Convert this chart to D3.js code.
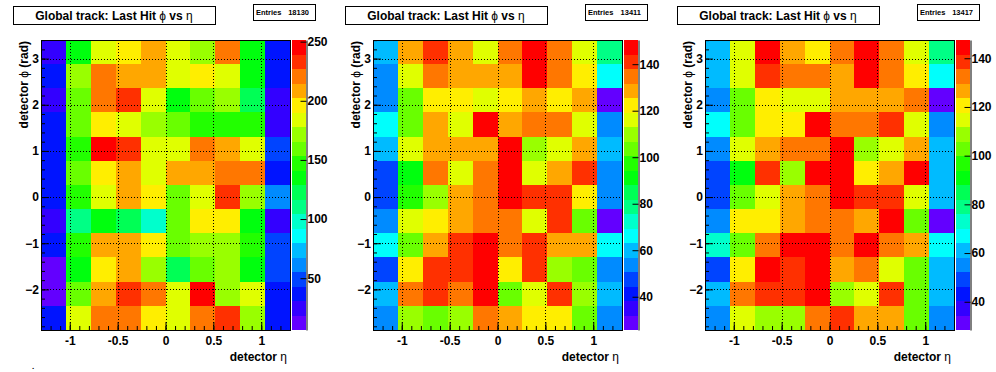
<!DOCTYPE html>
<html>
<head>
<meta charset="utf-8">
<script src="https://cdn.jsdelivr.net/npm/d3@7"></script>
<style>
body { margin: 0; background: #fff; }
svg { display: block; }
text { font-family: "Liberation Sans", Arial, Helvetica, sans-serif; font-weight: bold; fill: #000; }
</style>
</head>
<body>
<div id="graph"></div>
<script>
var width = 996, height = 372;

// bin edges
var etaEdges = [-1.3, -1.04, -0.78, -0.52, -0.26, 0, 0.26, 0.52, 0.78, 1.04, 1.3];
var phiEdges = [-2.880, -2.356, -1.833, -1.309, -0.785, -0.262, 0.262, 0.785, 1.309, 1.833, 2.356, 2.880, 3.403];

// tick labels
var etaTicks = [-1, -0.5, 0, 0.5, 1];
var etaLabels = ["-1", "-0.5", "0", "0.5", "1"];
var phiTicks = [-2, -1, 0, 1, 2, 3];
var zTicks1 = [50, 100, 150, 200, 250];
var zTicks2 = [40, 60, 80, 100, 120, 140];
var zTicks3 = [40, 60, 80, 100, 120, 140];

// z (colour) range of each histogram
var zRange1 = [6.2, 251.4];
var zRange2 = [25.7, 150.4];
var zRange3 = [28.4, 147.5];

var entries = [18130, 13411, 13417];

// bin contents, rows from top (phi high) to bottom, columns eta low -> high
var counts1 = [
  [25, 135, 184, 196, 208, 184, 172, 221, 135, 37],
  [37, 172, 221, 208, 208, 184, 196, 184, 135, 37],
  [25, 159, 221, 233, 184, 135, 159, 172, 123, 25],
  [37, 159, 196, 184, 172, 159, 147, 147, 147, 25],
  [37, 147, 245, 233, 184, 184, 221, 208, 184, 49],
  [37, 159, 196, 208, 184, 208, 208, 221, 221, 37],
  [37, 147, 184, 208, 196, 159, 184, 233, 172, 61],
  [25, 110, 135, 123, 98, 159, 196, 196, 135, 25],
  [37, 147, 208, 208, 196, 159, 172, 172, 147, 49],
  [12, 135, 196, 208, 172, 123, 159, 172, 135, 49],
  [12, 159, 208, 233, 221, 184, 245, 172, 184, 37],
  [37, 184, 221, 221, 196, 184, 221, 233, 172, 37]
];
var counts2 = [
  [60, 129, 141, 129, 116, 135, 147, 135, 116, 79],
  [54, 116, 135, 129, 129, 129, 147, 135, 122, 66],
  [54, 104, 122, 122, 116, 122, 129, 122, 129, 29],
  [66, 104, 129, 116, 147, 129, 135, 135, 116, 54],
  [60, 116, 129, 129, 129, 147, 110, 116, 129, 60],
  [48, 91, 135, 116, 135, 147, 116, 129, 141, 54],
  [48, 97, 110, 129, 135, 147, 141, 141, 122, 54],
  [54, 116, 122, 129, 135, 135, 116, 141, 104, 29],
  [66, 104, 129, 141, 147, 135, 141, 129, 129, 66],
  [48, 122, 141, 141, 147, 122, 141, 110, 104, 54],
  [60, 135, 141, 135, 147, 104, 116, 141, 110, 60],
  [54, 110, 104, 110, 135, 129, 122, 122, 104, 54]
];
var counts3 = [
  [61, 115, 145, 127, 121, 133, 145, 133, 115, 79],
  [61, 115, 139, 133, 133, 127, 145, 133, 121, 67],
  [55, 103, 121, 115, 115, 127, 127, 127, 133, 31],
  [67, 103, 121, 121, 145, 133, 133, 139, 115, 55],
  [55, 115, 127, 133, 133, 145, 109, 115, 127, 61],
  [49, 91, 139, 109, 145, 145, 121, 127, 145, 61],
  [49, 103, 115, 127, 133, 145, 139, 139, 115, 61],
  [55, 121, 121, 127, 133, 133, 127, 145, 103, 31],
  [73, 103, 133, 145, 145, 133, 145, 133, 127, 67],
  [49, 121, 145, 139, 145, 127, 133, 115, 103, 61],
  [61, 133, 139, 139, 145, 109, 115, 139, 103, 61],
  [55, 115, 109, 109, 133, 139, 127, 127, 103, 55]
];

var panels = [
  {counts: counts1, zRange: zRange1, zTicks: zTicks1, entries: entries[0]},
  {counts: counts2, zRange: zRange2, zTicks: zTicks2, entries: entries[1]},
  {counts: counts3, zRange: zRange3, zTicks: zTicks3, entries: entries[2]}
];

// old ROOT "pretty palette": 50 hues, 20 contour levels
var nLevels = 20;
var palette = d3.range(nLevels).map(function(k) {
  var c = Math.floor((k + 0.99) * 50 / nLevels);
  return d3.hsl(280 - (c + 1) * 5.6, 1, 0.5).formatHex();
});

var svg = d3.select('#graph').append('svg')
    .attr('width', width)
    .attr('height', height);
svg.append("rect").attr("width", width).attr("height", height).attr("fill", "#fff");

var fx0 = 41, fx1 = 290, fy0 = 40, fy1 = 330;
var x = d3.scaleLinear().domain([etaEdges[0], etaEdges[etaEdges.length - 1]]).range([fx0, fx1]);
var y = d3.scaleLinear().domain([phiEdges[0], phiEdges[phiEdges.length - 1]]).range([fy1, fy0]);

panels.forEach(function(p, pi) {
  var g = svg.append("g").attr("transform", "translate(" + (pi * 332) + ",0)");

  var color = d3.scaleQuantize().domain(p.zRange).range(palette);

  var cells = [];
  p.counts.forEach(function(row, r) {
    var iy = phiEdges.length - 2 - r;
    row.forEach(function(v, c) {
      cells.push({x0: etaEdges[c], x1: etaEdges[c + 1], y0: phiEdges[iy], y1: phiEdges[iy + 1], v: v});
    });
  });

  g.selectAll(".cell")
    .data(cells)
    .enter().append("rect")
      .attr("class", "cell")
      .attr("x", function(d) { return x(d.x0); })
      .attr("y", function(d) { return y(d.y1); })
      .attr("width", function(d) { return x(d.x1) - x(d.x0); })
      .attr("height", function(d) { return y(d.y0) - y(d.y1); })
      .attr("fill", function(d) { return color(d.v); })
      .attr("shape-rendering", "crispEdges");

  // dotted grid
  g.selectAll(".gx").data(etaTicks).enter().append("line")
      .attr("x1", function(d) { return Math.round(x(d)) + 0.5; })
      .attr("x2", function(d) { return Math.round(x(d)) + 0.5; })
      .attr("y1", fy0).attr("y2", fy1)
      .attr("stroke", "#000").attr("stroke-dasharray", "1,2");
  g.selectAll(".gy").data(phiTicks).enter().append("line")
      .attr("y1", function(d) { return Math.round(y(d)) + 0.5; })
      .attr("y2", function(d) { return Math.round(y(d)) + 0.5; })
      .attr("x1", fx0).attr("x2", fx1)
      .attr("stroke", "#000").attr("stroke-dasharray", "1,2");

  // axes (ticks inside the frame)
  var xMinor = d3.range(-13, 14).map(function(i) { return i / 10; });
  var yMinor = d3.range(-14, 18).map(function(i) { return i / 5; }).filter(function(v) { return v >= phiEdges[0] && v <= phiEdges[12]; });

  var xa = g.append("g").attr("transform", "translate(0," + fy1 + ")");
  xa.call(d3.axisBottom(x).tickValues(xMinor).tickSize(-4).tickSizeOuter(0).tickFormat(""));
  var xb = g.append("g").attr("transform", "translate(0," + fy1 + ")");
  xb.call(d3.axisBottom(x).tickValues(etaTicks).tickSize(-8).tickSizeOuter(0).tickPadding(6)
      .tickFormat(function(d, i) { return etaLabels[i]; }));

  var ya = g.append("g").attr("transform", "translate(" + fx0 + ",0)");
  ya.call(d3.axisLeft(y).tickValues(yMinor).tickSize(-4).tickSizeOuter(0).tickFormat(""));
  var yb = g.append("g").attr("transform", "translate(" + fx0 + ",0)");
  yb.call(d3.axisLeft(y).tickValues(phiTicks).tickSize(-8).tickSizeOuter(0).tickPadding(2)
      .tickFormat(d3.format("d")));

  [xa, xb, ya, yb].forEach(function(a) {
    a.select(".domain").remove();
    a.selectAll("line").attr("stroke", "#000");
    a.selectAll("text").attr("font-size", 12).attr("font-family", null);
    a.attr("font-family", null).attr("font-size", null);
  });

  g.append("rect")
      .attr("x", fx0 + 0.5).attr("y", fy0 + 0.5)
      .attr("width", fx1 - fx0).attr("height", fy1 - fy0)
      .attr("fill", "none").attr("stroke", "#000");

  // palette axis
  var zx0 = 291.5, zx1 = 306;
  var z = d3.scaleLinear().domain(p.zRange).range([fy1, fy0]);
  var step = (p.zRange[1] - p.zRange[0]) / nLevels;
  g.selectAll(".zbox")
    .data(palette)
    .enter().append("rect")
      .attr("x", zx0)
      .attr("width", zx1 - zx0)
      .attr("y", function(d, k) { return z(p.zRange[0] + (k + 1) * step); })
      .attr("height", function(d, k) { return z(p.zRange[0] + k * step) - z(p.zRange[0] + (k + 1) * step); })
      .attr("fill", function(d) { return d; })
      .attr("shape-rendering", "crispEdges");
  var za = g.append("g").attr("transform", "translate(" + (zx1 + 0.5) + ",0)");
  za.call(d3.axisRight(z).tickValues(p.zTicks).tickSize(-6).tickSizeOuter(0).tickPadding(1).tickFormat(d3.format("d")));
  za.attr("font-family", null).attr("font-size", null);
  za.select(".domain").attr("stroke", "#000");
  za.selectAll("line").attr("stroke", "#000");
  za.selectAll("text").attr("font-size", 12);

  // axis titles
  g.append("text")
      .attr("x", 287).attr("y", 361)
      .attr("text-anchor", "end")
      .attr("font-size", 12)
      .text("detector ")
    .append("tspan").attr("font-weight", "normal").text("\u03b7");

  var yt = g.append("text")
      .attr("transform", "translate(28,41) rotate(-90)")
      .attr("text-anchor", "end")
      .attr("font-size", 12);
  yt.append("tspan").text("detector ");
  yt.append("tspan").attr("font-weight", "normal").text("\u03d5");
  yt.append("tspan").text(" (rad)");

  // title box
  g.append("rect")
      .attr("x", 13.5).attr("y", 6.5).attr("width", 202).attr("height", 18)
      .attr("fill", "#fff").attr("stroke", "#000");
  var tt = g.append("text")
      .attr("x", 114).attr("y", 20)
      .attr("text-anchor", "middle")
      .attr("font-size", 12);
  tt.append("tspan").text("Global track: Last Hit ");
  tt.append("tspan").attr("font-weight", "normal").text("\u03d5");
  tt.append("tspan").text(" vs ");
  tt.append("tspan").attr("font-weight", "normal").text("\u03b7");

  // stats box
  g.append("rect")
      .attr("x", 253.5).attr("y", 4.5).attr("width", 62).attr("height", 16)
      .attr("fill", "#fff").attr("stroke", "#000");
  g.append("text").attr("x", 256).attr("y", 15).attr("font-size", 7.5).text("Entries");
  g.append("text").attr("x", 309).attr("y", 15).attr("font-size", 7.5)
      .attr("text-anchor", "end").text(p.entries);
});

svg.append("text").attr("x", 32).attr("y", 369).attr("font-size", 8).text(".");
</script>
</body>
</html>
